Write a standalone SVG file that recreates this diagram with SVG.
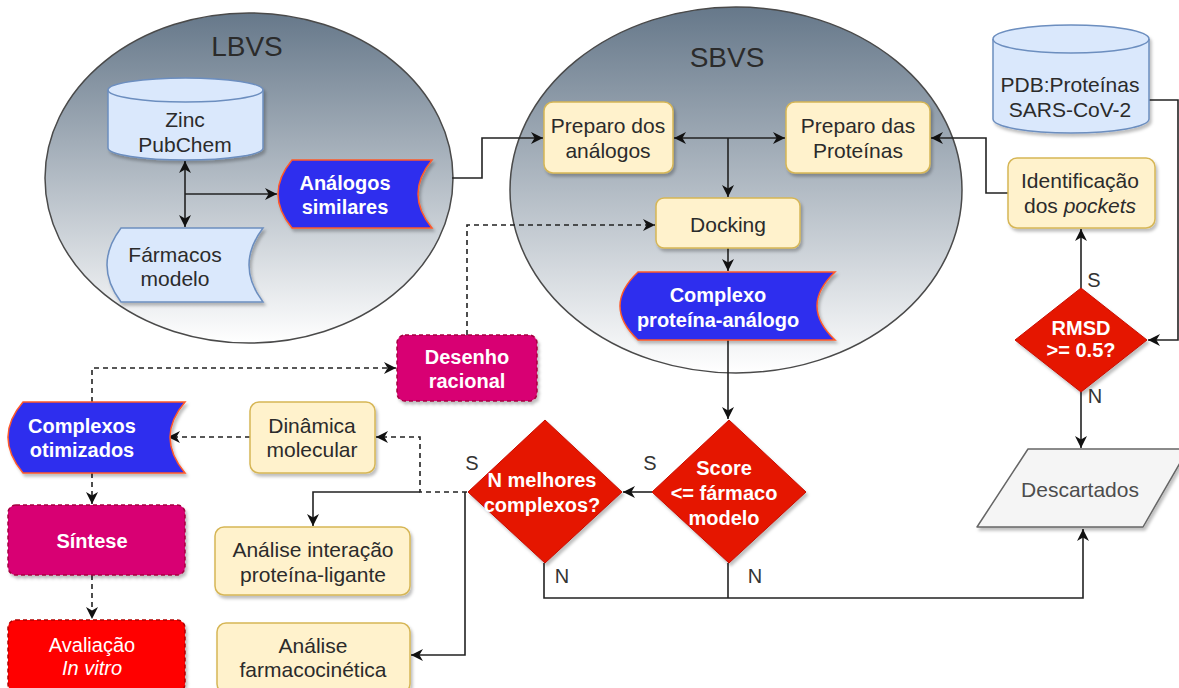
<svg xmlns="http://www.w3.org/2000/svg" width="1179" height="688" viewBox="0 0 1179 688">
  <defs>
    <linearGradient id="sphere" x1="0" y1="0" x2="0" y2="1">
      <stop offset="0" stop-color="#66788a"/>
      <stop offset="1" stop-color="#ffffff"/>
    </linearGradient>
    <filter id="shadow" x="-10%" y="-10%" width="130%" height="130%">
      <feDropShadow dx="2" dy="3" stdDeviation="1.5" flood-color="#000" flood-opacity="0.25"/>
    </filter>
    <marker id="arr" viewBox="0 0 10 10" refX="10" refY="5" markerWidth="12" markerHeight="12" orient="auto-start-reverse" markerUnits="userSpaceOnUse">
      <path d="M0,0 L10,5 L0,10 L3,5 z" fill="#111"/>
    </marker>
  </defs>
  <style>
    text { font-family: "Liberation Sans", Arial, sans-serif; text-anchor: middle; }
    .t { font-size: 21px; fill: #2b2b2b; }
    .w { font-size: 20px; fill: #ffffff; font-weight: bold; }
    .big { font-size: 28px; fill: #2b2b2b; }
    .lbl { font-size: 20px; fill: #333; }
    .sphere { fill: url(#sphere); stroke: #4a4a4a; stroke-width: 1.5; }
    .proc { fill: #fff2cc; stroke: #d6b656; stroke-width: 1.5; filter: url(#shadow); }
    .db { fill: #dae8fc; stroke: #6c8ebf; stroke-width: 1.5; filter: url(#shadow); }
    .data { fill: #2f2fee; stroke: #ff5a2a; stroke-width: 1.5; filter: url(#shadow); }
    .store { fill: #dae8fc; stroke: #6c8ebf; stroke-width: 1.5; filter: url(#shadow); }
    .dec { fill: #e51400; stroke: #c81000; stroke-width: 1; filter: url(#shadow); }
    .mag { fill: #d80073; stroke: #a50040; stroke-width: 1.5; stroke-dasharray: 4 3; filter: url(#shadow); }
    .redbox { fill: #ff0000; stroke: #b20000; stroke-width: 1.5; stroke-dasharray: 4 3; filter: url(#shadow); }
    .out { fill: #f5f5f5; stroke: #666666; stroke-width: 1.5; filter: url(#shadow); }
    .edge { fill: none; stroke: #222; stroke-width: 1.6; }
    .dash { stroke-dasharray: 5 4; }
  </style>

  <!-- Virtual screening regions -->
  <g id="lbvs">
    <ellipse class="sphere" cx="249" cy="178" rx="204" ry="165"/>
    <text class="big" x="247" y="56">LBVS</text>
  </g>
  <g id="sbvs">
    <ellipse class="sphere" cx="736" cy="190" rx="226" ry="183"/>
    <text class="big" x="727" y="67">SBVS</text>
  </g>

  <!-- Connectors -->
  <g id="connectors">
    <path class="edge" d="M185,161 V227" marker-start="url(#arr)" marker-end="url(#arr)"/>
    <path class="edge" d="M185,194 H277" marker-end="url(#arr)"/>
    <path class="edge" d="M452,178 H482 V138 H543" marker-end="url(#arr)"/>
    <path class="edge" d="M674,138 H785" marker-start="url(#arr)" marker-end="url(#arr)"/>
    <path class="edge" d="M728,138 V197" marker-end="url(#arr)"/>
    <path class="edge" d="M728,248 V271" marker-end="url(#arr)"/>
    <path class="edge" d="M728,340 V419" marker-end="url(#arr)"/>
    <path class="edge" d="M652,492 H623" marker-end="url(#arr)"/>
    <path class="edge" d="M544,563 V598 H1083 V529" marker-end="url(#arr)"/>
    <path class="edge" d="M728,563 V598"/>
    <path class="edge" d="M1081,392 V448" marker-end="url(#arr)"/>
    <path class="edge" d="M1081,288 V229" marker-end="url(#arr)"/>
    <path class="edge" d="M1008,193 H986 V138 H931" marker-end="url(#arr)"/>
    <path class="edge" d="M1149,100 H1178 V340 H1148" marker-end="url(#arr)"/>
    <path class="edge dash" d="M467,335 V225 H655" marker-end="url(#arr)"/>
    <path class="edge dash" d="M92,402 V368 H396" marker-end="url(#arr)"/>
    <path class="edge" d="M420,492 H313 V526" marker-end="url(#arr)"/>
    <path class="edge" d="M465,492 V655 H411" marker-end="url(#arr)"/>
    <path class="edge dash" d="M467,492 H420 V437 H376" marker-end="url(#arr)"/>
    <path class="edge dash" d="M250,437 H168" marker-end="url(#arr)"/>
    <path class="edge dash" d="M92,473 V504" marker-end="url(#arr)"/>
    <path class="edge dash" d="M92,575 V619" marker-end="url(#arr)"/>
  </g>

  <!-- Ligand-based screening -->
  <g id="zinc-pubchem">
    <path class="db" d="M108,90 A77.5,12 0 0 1 263,90 V148 A77.5,12 0 0 1 108,148 Z"/>
    <path d="M108,90 A77.5,12 0 0 0 263,90" fill="none" stroke="#6c8ebf" stroke-width="1.5"/>
    <text class="t" x="185" y="127">Zinc</text>
    <text class="t" x="185" y="152">PubChem</text>
  </g>
  <g id="farmacos-modelo">
    <path class="store" d="M121,228 H263 Q235,265 263,302 H121 Q93,265 121,228 Z"/>
    <text class="t" x="175" y="262">Fármacos</text>
    <text class="t" x="175" y="286">modelo</text>
  </g>
  <g id="analogos-similares">
    <path class="data" d="M292,160 H432 Q404,194 432,228 H292 Q264,194 292,160 Z"/>
    <text class="w" x="345" y="190">Análogos</text>
    <text class="w" x="345" y="214">similares</text>
  </g>

  <!-- Structure-based screening -->
  <g id="preparo-analogos">
    <rect class="proc" x="544" y="102" width="129" height="71" rx="9"/>
    <text class="t" x="608" y="133">Preparo dos</text>
    <text class="t" x="608" y="158">análogos</text>
  </g>
  <g id="preparo-proteinas">
    <rect class="proc" x="786" y="102" width="144" height="71" rx="9"/>
    <text class="t" x="858" y="133">Preparo das</text>
    <text class="t" x="858" y="158">Proteínas</text>
  </g>
  <g id="docking">
    <rect class="proc" x="656" y="198" width="144" height="50" rx="8"/>
    <text class="t" x="728" y="232">Docking</text>
  </g>
  <g id="complexo-proteina-analogo">
    <path class="data" d="M638,272 H835 Q799,306 835,340 H638 Q602,306 638,272 Z"/>
    <text class="w" x="718" y="302">Complexo</text>
    <text class="w" x="718" y="327">proteína-análogo</text>
  </g>

  <!-- Protein targets -->
  <g id="pdb-proteinas">
    <path class="db" d="M993,39 A78,14 0 0 1 1149,39 V119 A78,14 0 0 1 993,119 Z"/>
    <path d="M993,39 A78,14 0 0 0 1149,39" fill="none" stroke="#6c8ebf" stroke-width="1.5"/>
    <text class="t" x="1070" y="92">PDB:Proteínas</text>
    <text class="t" x="1070" y="117">SARS-CoV-2</text>
  </g>
  <g id="identificacao-pockets">
    <rect class="proc" x="1008" y="158" width="147" height="70" rx="9"/>
    <text class="t" x="1080" y="188">Identificação</text>
    <text class="t" x="1080" y="213">dos <tspan font-style="italic">pockets</tspan></text>
  </g>
  <g id="rmsd">
    <path class="dec" d="M1081,288 L1147,340 L1081,392 L1015,340 Z"/>
    <text class="w" x="1081" y="335">RMSD</text>
    <text class="w" x="1081" y="357">&gt;= 0.5?</text>
    <text class="lbl" x="1094" y="287">S</text>
    <text class="lbl" x="1095" y="403">N</text>
  </g>
  <g id="descartados">
    <path class="out" d="M1028,449 H1188 L1143,527 H977 Z" stroke-linejoin="round"/>
    <text class="t" x="1080" y="497" style="fill:#4d4d4d">Descartados</text>
  </g>

  <!-- Selection -->
  <g id="score">
    <path class="dec" d="M729,420 L806,492 L729,563 L652,492 Z"/>
    <text class="w" x="724" y="475">Score</text>
    <text class="w" x="724" y="500">&lt;= fármaco</text>
    <text class="w" x="724" y="525">modelo</text>
    <text class="lbl" x="650" y="470">S</text>
    <text class="lbl" x="755" y="583">N</text>
  </g>
  <g id="n-melhores">
    <path class="dec" d="M545,420 L622,492 L545,563 L468,492 Z"/>
    <text class="w" x="542" y="487">N melhores</text>
    <text class="w" x="542" y="512">complexos?</text>
    <text class="lbl" x="472" y="470">S</text>
    <text class="lbl" x="562" y="583">N</text>
  </g>

  <!-- Optimisation and validation -->
  <g id="desenho-racional">
    <rect class="mag" x="397" y="335" width="140" height="66" rx="8"/>
    <text class="w" x="467" y="364">Desenho</text>
    <text class="w" x="467" y="388">racional</text>
  </g>
  <g id="complexos-otimizados">
    <path class="data" d="M23,402 H185 Q155,437 185,473 H23 Q-7,437 23,402 Z"/>
    <text class="w" x="82" y="433">Complexos</text>
    <text class="w" x="82" y="457">otimizados</text>
  </g>
  <g id="dinamica-molecular">
    <rect class="proc" x="250" y="402" width="125" height="71" rx="9"/>
    <text class="t" x="312" y="433">Dinâmica</text>
    <text class="t" x="312" y="457">molecular</text>
  </g>
  <g id="sintese">
    <rect class="mag" x="8" y="505" width="177" height="70" rx="8"/>
    <text class="w" x="92" y="548">Síntese</text>
  </g>
  <g id="analise-interacao">
    <rect class="proc" x="215" y="527" width="195" height="68" rx="9"/>
    <text class="t" x="313" y="557">Análise interação</text>
    <text class="t" x="313" y="582">proteína-ligante</text>
  </g>
  <g id="analise-farmacocinetica">
    <rect class="proc" x="217" y="623" width="193" height="70" rx="9"/>
    <text class="t" x="313" y="653">Análise</text>
    <text class="t" x="313" y="677">farmacocinética</text>
  </g>
  <g id="avaliacao-in-vitro">
    <rect class="redbox" x="8" y="620" width="177" height="72" rx="8"/>
    <text class="w" x="92" y="652" style="font-weight:normal">Avaliação</text>
    <text class="w" x="92" y="675" style="font-weight:normal;font-style:italic">In vitro</text>
  </g>
</svg>
